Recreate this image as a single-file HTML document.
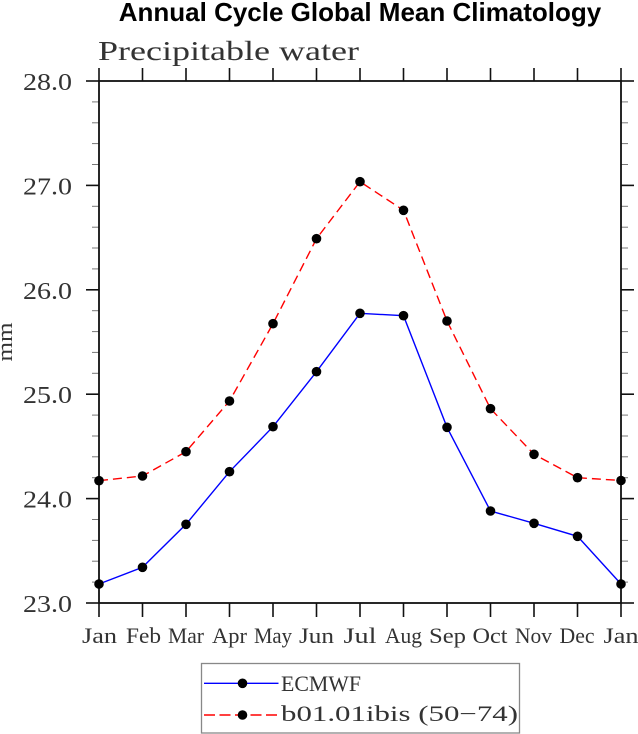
<!DOCTYPE html>
<html><head><meta charset="utf-8"><style>
html,body{margin:0;padding:0;background:#fff;}
svg{display:block;}
</style></head><body>
<svg width="638" height="734" viewBox="0 0 638 734" xmlns="http://www.w3.org/2000/svg">
<rect width="638" height="734" fill="#fff"/>
<text x="360" y="21" text-anchor="middle" font-family="Liberation Sans, Arial, sans-serif" font-weight="bold" font-size="26" fill="#000">Annual Cycle Global Mean Climatology</text>
<text x="98" y="60" font-family="Liberation Serif, serif" font-size="27" fill="#333" textLength="261" lengthAdjust="spacingAndGlyphs">Precipitable water</text>
<text transform="translate(12,342) rotate(-90)" text-anchor="middle" font-family="Liberation Serif, serif" font-size="22" fill="#333" textLength="39" lengthAdjust="spacingAndGlyphs">mm</text>

<g stroke="#777" stroke-width="1">
<line x1="92" y1="582.1" x2="99" y2="582.1"/><line x1="92" y1="561.2" x2="99" y2="561.2"/><line x1="92" y1="540.4" x2="99" y2="540.4"/><line x1="92" y1="519.5" x2="99" y2="519.5"/>
<line x1="92" y1="477.7" x2="99" y2="477.7"/><line x1="92" y1="456.8" x2="99" y2="456.8"/><line x1="92" y1="436" x2="99" y2="436"/><line x1="92" y1="415.1" x2="99" y2="415.1"/>
<line x1="92" y1="373.3" x2="99" y2="373.3"/><line x1="92" y1="352.4" x2="99" y2="352.4"/><line x1="92" y1="331.6" x2="99" y2="331.6"/><line x1="92" y1="310.7" x2="99" y2="310.7"/>
<line x1="92" y1="268.9" x2="99" y2="268.9"/><line x1="92" y1="248" x2="99" y2="248"/><line x1="92" y1="227.2" x2="99" y2="227.2"/><line x1="92" y1="206.3" x2="99" y2="206.3"/>
<line x1="92" y1="164.5" x2="99" y2="164.5"/><line x1="92" y1="143.6" x2="99" y2="143.6"/><line x1="92" y1="122.8" x2="99" y2="122.8"/><line x1="92" y1="101.9" x2="99" y2="101.9"/>
<line x1="621" y1="582.1" x2="628" y2="582.1"/><line x1="621" y1="561.2" x2="628" y2="561.2"/><line x1="621" y1="540.4" x2="628" y2="540.4"/><line x1="621" y1="519.5" x2="628" y2="519.5"/>
<line x1="621" y1="477.7" x2="628" y2="477.7"/><line x1="621" y1="456.8" x2="628" y2="456.8"/><line x1="621" y1="436" x2="628" y2="436"/><line x1="621" y1="415.1" x2="628" y2="415.1"/>
<line x1="621" y1="373.3" x2="628" y2="373.3"/><line x1="621" y1="352.4" x2="628" y2="352.4"/><line x1="621" y1="331.6" x2="628" y2="331.6"/><line x1="621" y1="310.7" x2="628" y2="310.7"/>
<line x1="621" y1="268.9" x2="628" y2="268.9"/><line x1="621" y1="248" x2="628" y2="248"/><line x1="621" y1="227.2" x2="628" y2="227.2"/><line x1="621" y1="206.3" x2="628" y2="206.3"/>
<line x1="621" y1="164.5" x2="628" y2="164.5"/><line x1="621" y1="143.6" x2="628" y2="143.6"/><line x1="621" y1="122.8" x2="628" y2="122.8"/><line x1="621" y1="101.9" x2="628" y2="101.9"/>
</g>
<g stroke="#111" stroke-width="1.6">
<line x1="86" y1="603" x2="99" y2="603"/><line x1="86" y1="498.6" x2="99" y2="498.6"/><line x1="86" y1="394.2" x2="99" y2="394.2"/><line x1="86" y1="289.8" x2="99" y2="289.8"/><line x1="86" y1="185.4" x2="99" y2="185.4"/><line x1="86" y1="81" x2="99" y2="81"/>
<line x1="621" y1="603" x2="634" y2="603"/><line x1="621" y1="498.6" x2="634" y2="498.6"/><line x1="621" y1="394.2" x2="634" y2="394.2"/><line x1="621" y1="289.8" x2="634" y2="289.8"/><line x1="621" y1="185.4" x2="634" y2="185.4"/><line x1="621" y1="81" x2="634" y2="81"/>
<line x1="99" y1="603" x2="99" y2="617"/><line x1="142.5" y1="603" x2="142.5" y2="617"/><line x1="186" y1="603" x2="186" y2="617"/><line x1="229.5" y1="603" x2="229.5" y2="617"/><line x1="273" y1="603" x2="273" y2="617"/><line x1="316.5" y1="603" x2="316.5" y2="617"/><line x1="360" y1="603" x2="360" y2="617"/><line x1="403.5" y1="603" x2="403.5" y2="617"/><line x1="447" y1="603" x2="447" y2="617"/><line x1="490.5" y1="603" x2="490.5" y2="617"/><line x1="534" y1="603" x2="534" y2="617"/><line x1="577.5" y1="603" x2="577.5" y2="617"/><line x1="621" y1="603" x2="621" y2="617"/>
<line x1="99" y1="68" x2="99" y2="81"/><line x1="142.5" y1="68" x2="142.5" y2="81"/><line x1="186" y1="68" x2="186" y2="81"/><line x1="229.5" y1="68" x2="229.5" y2="81"/><line x1="273" y1="68" x2="273" y2="81"/><line x1="316.5" y1="68" x2="316.5" y2="81"/><line x1="360" y1="68" x2="360" y2="81"/><line x1="403.5" y1="68" x2="403.5" y2="81"/><line x1="447" y1="68" x2="447" y2="81"/><line x1="490.5" y1="68" x2="490.5" y2="81"/><line x1="534" y1="68" x2="534" y2="81"/><line x1="577.5" y1="68" x2="577.5" y2="81"/><line x1="621" y1="68" x2="621" y2="81"/>
</g>
<rect x="99" y="81" width="522" height="522" fill="none" stroke="#111" stroke-width="1.8"/>

<g font-family="Liberation Serif, serif" font-size="24" fill="#333" text-anchor="end">
<text x="72" y="90" textLength="49" lengthAdjust="spacingAndGlyphs">28.0</text>
<text x="72" y="194.4" textLength="49" lengthAdjust="spacingAndGlyphs">27.0</text>
<text x="72" y="298.8" textLength="49" lengthAdjust="spacingAndGlyphs">26.0</text>
<text x="72" y="403.2" textLength="49" lengthAdjust="spacingAndGlyphs">25.0</text>
<text x="72" y="507.6" textLength="49" lengthAdjust="spacingAndGlyphs">24.0</text>
<text x="72" y="612" textLength="49" lengthAdjust="spacingAndGlyphs">23.0</text>
</g>
<g font-family="Liberation Serif, serif" font-size="22" fill="#333" text-anchor="middle">
<text x="99.5" y="643" textLength="35" lengthAdjust="spacingAndGlyphs">Jan</text>
<text x="143.5" y="643" textLength="35" lengthAdjust="spacingAndGlyphs">Feb</text>
<text x="186" y="643" textLength="36" lengthAdjust="spacingAndGlyphs">Mar</text>
<text x="229.5" y="643" textLength="35" lengthAdjust="spacingAndGlyphs">Apr</text>
<text x="273" y="643" textLength="38" lengthAdjust="spacingAndGlyphs">May</text>
<text x="316.5" y="643" textLength="35" lengthAdjust="spacingAndGlyphs">Jun</text>
<text x="360" y="643" textLength="33" lengthAdjust="spacingAndGlyphs">Jul</text>
<text x="403.5" y="643" textLength="37" lengthAdjust="spacingAndGlyphs">Aug</text>
<text x="447.5" y="643" textLength="37" lengthAdjust="spacingAndGlyphs">Sep</text>
<text x="490" y="643" textLength="35" lengthAdjust="spacingAndGlyphs">Oct</text>
<text x="533.5" y="643" textLength="37" lengthAdjust="spacingAndGlyphs">Nov</text>
<text x="577" y="643" textLength="35" lengthAdjust="spacingAndGlyphs">Dec</text>
<text x="621" y="643" textLength="35" lengthAdjust="spacingAndGlyphs">Jan</text>
</g>

<polyline fill="none" stroke="#0000ff" stroke-width="1.4" points="99,584 142.5,567.3 186,524.3 229.5,471.7 273,426.7 316.5,371.7 360,313.3 403.5,315.7 447,427.3 490.5,511 534,523.3 577.5,536.3 621,584"/>
<polyline fill="none" stroke="#ff0000" stroke-width="1.4" stroke-dasharray="9,5" points="99,480.7 142.5,476 186,451.7 229.5,401 273,323.7 316.5,238.7 360,181.7 403.5,210.3 447,321 490.5,408.7 534,454.3 577.5,477.7 621,480.5"/>
<g fill="#000">
<circle cx="99" cy="584" r="4.8"/><circle cx="142.5" cy="567.3" r="4.8"/><circle cx="186" cy="524.3" r="4.8"/><circle cx="229.5" cy="471.7" r="4.8"/><circle cx="273" cy="426.7" r="4.8"/><circle cx="316.5" cy="371.7" r="4.8"/><circle cx="360" cy="313.3" r="4.8"/><circle cx="403.5" cy="315.7" r="4.8"/><circle cx="447" cy="427.3" r="4.8"/><circle cx="490.5" cy="511" r="4.8"/><circle cx="534" cy="523.3" r="4.8"/><circle cx="577.5" cy="536.3" r="4.8"/><circle cx="621" cy="584" r="4.8"/>
<circle cx="99" cy="480.7" r="4.8"/><circle cx="142.5" cy="476" r="4.8"/><circle cx="186" cy="451.7" r="4.8"/><circle cx="229.5" cy="401" r="4.8"/><circle cx="273" cy="323.7" r="4.8"/><circle cx="316.5" cy="238.7" r="4.8"/><circle cx="360" cy="181.7" r="4.8"/><circle cx="403.5" cy="210.3" r="4.8"/><circle cx="447" cy="321" r="4.8"/><circle cx="490.5" cy="408.7" r="4.8"/><circle cx="534" cy="454.3" r="4.8"/><circle cx="577.5" cy="477.7" r="4.8"/><circle cx="621" cy="480.5" r="4.8"/>
</g>

<rect x="201.5" y="663.5" width="318" height="69.5" fill="#fff" stroke="#888" stroke-width="1.3"/>
<line x1="204" y1="683.3" x2="278.5" y2="683.3" stroke="#0000ff" stroke-width="1.4"/>
<circle cx="242.5" cy="683.3" r="4.8" fill="#000"/>
<line x1="204" y1="715" x2="278.5" y2="715" stroke="#ff0000" stroke-width="1.4" stroke-dasharray="11,4.5"/>
<circle cx="242.5" cy="715" r="4.8" fill="#000"/>
<g font-family="Liberation Serif, serif" font-size="22" fill="#333">
<text x="281" y="691" textLength="80" lengthAdjust="spacingAndGlyphs">ECMWF</text>
<text x="281" y="721" textLength="237" lengthAdjust="spacingAndGlyphs">b01.01ibis (50−74)</text>
</g>
</svg>
</body></html>
